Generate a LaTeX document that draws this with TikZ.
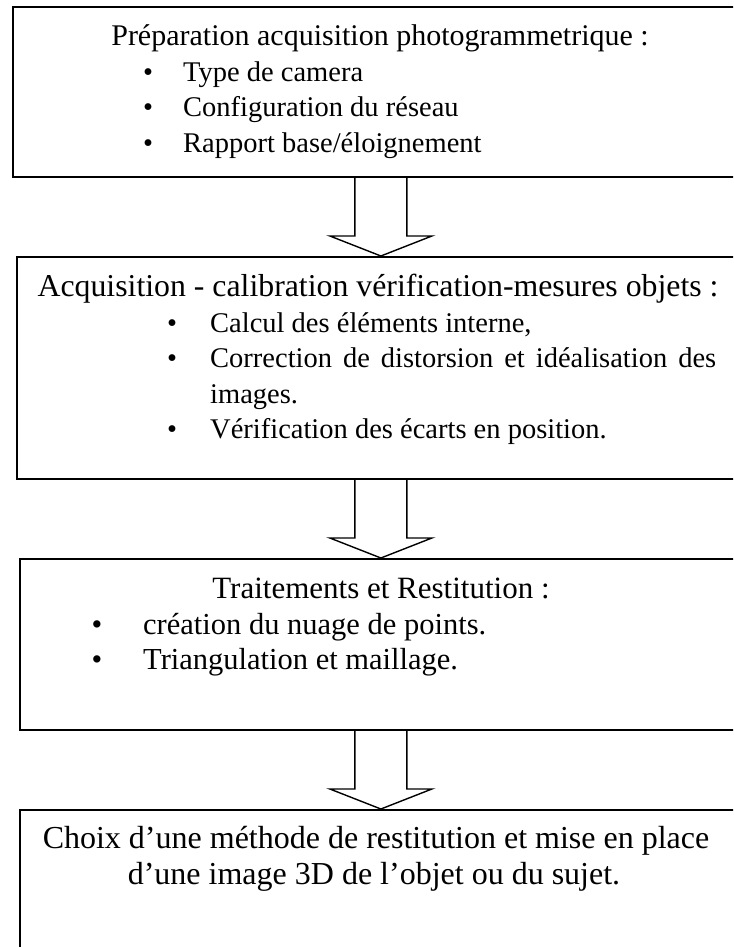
\documentclass[tikz,border=0pt]{standalone}
\usepackage{fontspec}
\setmainfont{Liberation Serif}
\usetikzlibrary{calc}

\newcommand{\fs}[1]{\fontsize{#1}{#1}\selectfont}

\tikzset{
  stagebox/.style={draw=black, line width=1.8pt, rectangle, inner sep=0pt, anchor=north west},
  blockarrow/.style={draw=black, line width=1.4pt, line join=miter},
  title/.style={anchor=base, inner sep=0pt, font=\fs{31}},
  item/.style={anchor=base west, inner sep=0pt, font=\fs{28.5}},
  bullet/.style={anchor=base, inner sep=0pt, font=\fs{28.5}},
  bigitem/.style={item, font=\fs{30.5}},
  bigbullet/.style={bullet, font=\fs{30.5}},
}

\newcommand{\stagearrow}[2]{%
  \draw[blockarrow]
    ([xshift=-26pt]#1.south)
    -- ([xshift=-26pt,yshift=20pt]#2.north)
    -- ([xshift=-51pt,yshift=20pt]#2.north)
    -- (#2.north)
    -- ([xshift=51pt,yshift=20pt]#2.north)
    -- ([xshift=26pt,yshift=20pt]#2.north)
    -- ([xshift=26pt]#1.south);}

\begin{document}
\begin{tikzpicture}[x=1pt,y=-1pt]
  \useasboundingbox (0,0) rectangle (733,947);
  \clip (0,0) rectangle (733,947);

  % the four stages (right sides run past the page edge)
  \node[stagebox, minimum width=736pt, minimum height=170pt] (b1) at (12,6) {};
  \node[stagebox, minimum width=728pt, minimum height=222pt] (b2) at (16,256) {};
  \node[stagebox, minimum width=722pt, minimum height=171pt] (b3) at (19,558) {};
  \node[stagebox, minimum width=722pt, minimum height=200pt] (b4) at (19,809) {};

  % hollow block arrows between stages
  \stagearrow{b1}{b2}
  \stagearrow{b2}{b3}
  \stagearrow{b3}{b4}

  % stage 1
  \node[title, font=\fs{30}] (t1) at (380,46) {Préparation acquisition photogrammetrique :};
  \node[bullet] (p1a) at (148,82) {•};
  \node[item] (i1a) at (183,82) {Type de camera};
  \node[bullet] (p1b) at (148,117) {•};
  \node[item] (i1b) at (183,117) {Configuration du réseau};
  \node[bullet] (p1c) at (148,153) {•};
  \node[item] (i1c) at (183,153) {Rapport base/éloignement};

  % stage 2
  \node[title, font=\fs{31.8}] (t2) at (378,296) {Acquisition - calibration vérification-mesures objets :};
  \node[bullet] (p2a) at (172,332) {•};
  \node[item] (i2a) at (210,332) {Calcul des éléments interne,};
  \node[bullet] (p2b) at (172,367) {•};
  \node[item] (i2b) at (210,367) {\makebox[506pt][s]{Correction de distorsion et idéalisation des}};
  \node[item] (i2c) at (210,403) {images.};
  \node[bullet] (p2d) at (172,438) {•};
  \node[item] (i2d) at (210,438) {Vérification des écarts en position.};

  % stage 3
  \node[title] (t3) at (381,598) {Traitements et Restitution :};
  \node[bigbullet] (p3a) at (97,634) {•};
  \node[bigitem] (i3a) at (143,634) {création du nuage de points.};
  \node[bigbullet] (p3b) at (97,669) {•};
  \node[bigitem] (i3b) at (143,669) {Triangulation et maillage.};

  % stage 4
  \node[title, font=\fs{32}] (t4a) at (376,848) {Choix d’une méthode de restitution et mise en place};
  \node[title, font=\fs{32}] (t4b) at (374,884) {d’une image 3D de l’objet ou du sujet.};
\end{tikzpicture}
\end{document}
